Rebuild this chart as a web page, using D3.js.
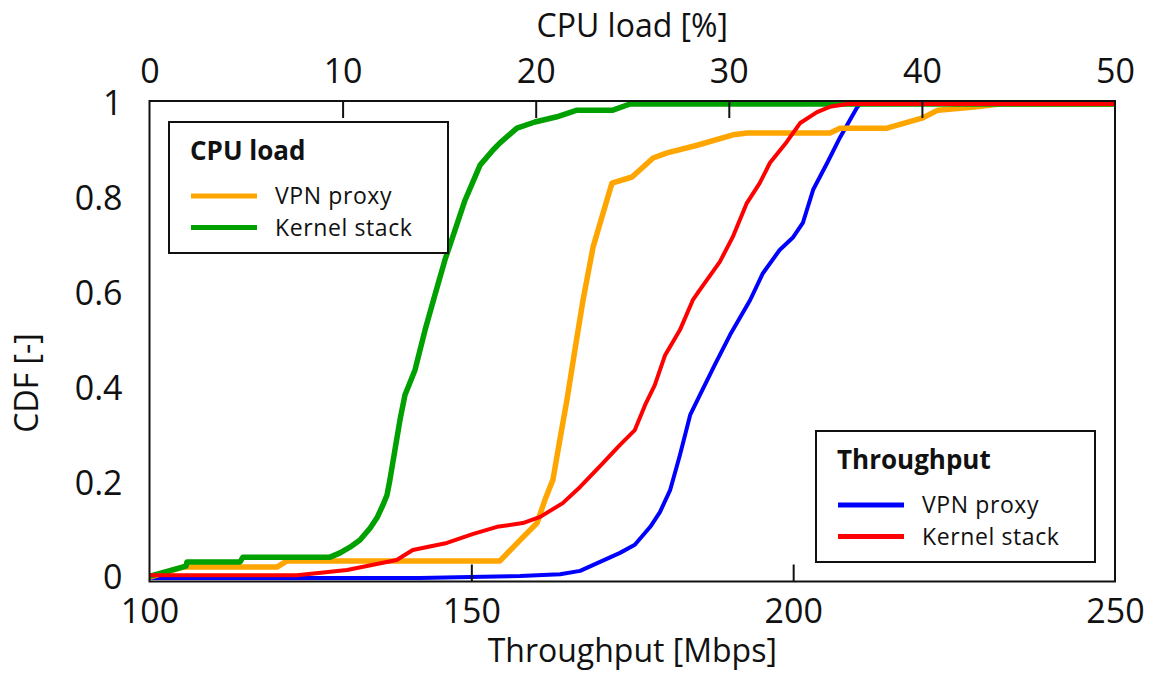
<!DOCTYPE html>
<html>
<head>
<meta charset="utf-8">
<script src="https://cdn.jsdelivr.net/npm/d3@7"></script>
<style>
  html, body { margin: 0; padding: 0; background: #fff; }
  svg { display: block; font-family: "Open Sans", "Noto Sans", sans-serif; }
</style>
</head>
<body>
<svg id="chart" width="1153" height="673"></svg>
<script>
// ---- Data: CDF curves ----
// CPU load [%] (top axis)
const cpuProxyLoad = [0.03, 1.73, 6.6, 7.12, 18.15, 19.19, 20.07, 20.48, 20.89, 21.25, 21.62, 22.03, 22.45, 22.97, 23.49, 23.95, 24.99, 26.08, 26.8, 28.36, 30.22, 30.95, 35.24, 35.76, 38.19, 40.0, 40.83, 42.85, 44.04, 50];
const cpuProxyCdf  = [0.002, 0.023, 0.023, 0.036, 0.036, 0.08, 0.116, 0.165, 0.207, 0.291, 0.376, 0.481, 0.586, 0.698, 0.77, 0.833, 0.846, 0.886, 0.897, 0.913, 0.935, 0.939, 0.939, 0.949, 0.949, 0.97, 0.987, 0.994, 1.0, 1.0];

const cpuKernelLoad = [0.03, 1.89, 1.94, 4.69, 4.84, 9.35, 9.87, 10.38, 10.9, 11.42, 11.78, 12.09, 12.3, 12.45, 12.71, 12.97, 13.23, 13.75, 14.27, 14.78, 15.3, 15.82, 16.34, 17.12, 17.79, 18.15, 19.03, 19.96, 21.1, 22.14, 24.0, 24.88, 50];
const cpuKernelCdf  = [0.004, 0.025, 0.034, 0.034, 0.044, 0.044, 0.053, 0.065, 0.08, 0.105, 0.127, 0.154, 0.175, 0.207, 0.27, 0.333, 0.386, 0.439, 0.523, 0.597, 0.671, 0.734, 0.797, 0.871, 0.903, 0.918, 0.949, 0.962, 0.973, 0.987, 0.987, 1.0, 1.0];

// Throughput [Mbps] (bottom axis)
const tputProxyMbps = [100.1, 142.0, 149.8, 157.6, 163.8, 166.9, 170.0, 173.1, 175.4, 177.8, 179.3, 180.9, 182.4, 184.0, 185.5, 187.8, 190.2, 193.3, 195.3, 197.9, 200.0, 201.5, 203.1, 205.3, 207.3, 209.9, 210.4, 250];
const tputProxyCdf  = [0.0, 0.0, 0.002, 0.004, 0.008, 0.015, 0.034, 0.053, 0.07, 0.108, 0.139, 0.186, 0.259, 0.344, 0.386, 0.449, 0.513, 0.586, 0.643, 0.692, 0.719, 0.749, 0.819, 0.876, 0.93, 0.992, 1.0, 1.0];

const tputKernelMbps = [100.1, 122.9, 130.7, 138.4, 140.9, 146.2, 150.3, 154.0, 158.0, 160.7, 164.2, 166.9, 170.0, 173.1, 175.4, 177.0, 178.5, 180.1, 182.4, 184.4, 185.5, 188.6, 190.6, 192.8, 194.8, 196.4, 199.0, 201.1, 203.7, 205.7, 208.4, 250];
const tputKernelCdf  = [0.006, 0.006, 0.017, 0.038, 0.059, 0.074, 0.093, 0.108, 0.116, 0.129, 0.158, 0.192, 0.236, 0.281, 0.312, 0.365, 0.407, 0.47, 0.523, 0.586, 0.608, 0.667, 0.719, 0.791, 0.833, 0.876, 0.92, 0.96, 0.983, 0.994, 1.0, 1.0];

// Axis ticks and labels
const tputTicks = [100, 150, 200, 250];
const cpuTicks = [0, 10, 20, 30, 40, 50];
const cdfTicks = [0, 0.2, 0.4, 0.6, 0.8, 1];
const legendLabels = ["VPN proxy", "Kernel stack"];

// ---- Layout ----
const svg = d3.select("#chart");
const frame = { left: 149.5, right: 1115, top: 101, bottom: 581.5 };

const xT = d3.scaleLinear().domain([100, 250]).range([frame.left, frame.right]);
const xC = d3.scaleLinear().domain([0, 50]).range([frame.left, frame.right]);
const y  = d3.scaleLinear().domain([0, 1]).range([578, 104]);

const colors = { orange: "#ffa500", green: "#00a000", blue: "#0000ff", red: "#ff0000" };

// ---- Curves ----
function curve(xs, ys, xScale, color, width) {
  const pts = xs.map((v, i) => [v, ys[i]]);
  const line = d3.line().x(d => xScale(d[0])).y(d => y(d[1]));
  svg.append("path")
    .datum(pts)
    .attr("d", line)
    .attr("fill", "none")
    .attr("stroke", color)
    .attr("stroke-width", width)
    .attr("stroke-linejoin", "round");
}

curve(tputProxyMbps, tputProxyCdf, xT, colors.blue, 4);
curve(cpuProxyLoad, cpuProxyCdf, xC, colors.orange, 5.5);
curve(cpuKernelLoad, cpuKernelCdf, xC, colors.green, 5.5);
curve(tputKernelMbps, tputKernelCdf, xT, colors.red, 4);

// ---- Frame ----
svg.append("rect")
  .attr("x", frame.left).attr("y", frame.top)
  .attr("width", frame.right - frame.left)
  .attr("height", frame.bottom - frame.top)
  .attr("fill", "none").attr("stroke", "#111").attr("stroke-width", 2);

// ---- Axes ----
const tickFont = 34;

const bottomAxis = svg.append("g")
  .attr("transform", `translate(0,${frame.bottom})`)
  .call(d3.axisBottom(xT).tickValues(tputTicks).tickSizeInner(-17).tickSizeOuter(0).tickPadding(17).tickFormat(d3.format("d")));

const topAxis = svg.append("g")
  .attr("transform", `translate(0,${frame.top})`)
  .call(d3.axisTop(xC).tickValues(cpuTicks).tickSizeInner(-17).tickSizeOuter(0).tickPadding(18).tickFormat(d3.format("d")));

const leftAxis = svg.append("g")
  .attr("transform", `translate(${frame.left},0)`)
  .call(d3.axisLeft(y).tickValues(cdfTicks).tickSize(0).tickPadding(27)
    .tickFormat(d => (d === 0 || d === 1) ? String(d) : d.toFixed(1)));

[bottomAxis, topAxis, leftAxis].forEach(g => {
  g.select(".domain").remove();
  g.selectAll("text").attr("font-size", tickFont).attr("fill", "#111")
    .attr("font-family", "\"Open Sans\", \"Noto Sans\", sans-serif");
  g.selectAll("line").attr("stroke", "#111").attr("stroke-width", 2);
});
// edge ticks coincide with the frame
bottomAxis.selectAll(".tick line").filter(d => d === 100 || d === 250).remove();
topAxis.selectAll(".tick line").filter(d => d === 0 || d === 50).remove();
topAxis.selectAll("text").attr("dy", "0em");

// ---- Axis titles ----
const midX = (frame.left + frame.right) / 2;
svg.append("text").attr("x", midX).attr("y", 37)
  .attr("text-anchor", "middle").attr("font-size", 32).attr("fill", "#111")
  .text("CPU load [%]");
svg.append("text").attr("x", midX).attr("y", 662)
  .attr("text-anchor", "middle").attr("font-size", 32).attr("fill", "#111")
  .text("Throughput [Mbps]");
svg.append("text")
  .attr("transform", "translate(38,383) rotate(-90)")
  .attr("text-anchor", "middle").attr("font-size", 32).attr("fill", "#111")
  .text("CDF [-]");

// ---- Legends ----
function legend(x0, y0, title, entries) {
  const g = svg.append("g").attr("transform", `translate(${x0},${y0})`);
  g.append("rect").attr("width", 279).attr("height", 131)
    .attr("fill", "#fff").attr("stroke", "#111").attr("stroke-width", 2);
  g.append("text").attr("x", 21).attr("y", 38)
    .attr("font-size", 26).attr("font-weight", "bold").attr("fill", "#111")
    .text(title);
  entries.forEach((e, i) => {
    const ly = 74 + i * 31.5;
    g.append("line").attr("x1", 22).attr("x2", 88).attr("y1", ly).attr("y2", ly)
      .attr("stroke", e.color).attr("stroke-width", 5);
    g.append("text").attr("x", 106).attr("y", ly + 8)
      .attr("font-size", 23).attr("letter-spacing", 0.6)
      .attr("fill", "#111").text(e.label);
  });
}

legend(169, 122, "CPU load", [
  { label: legendLabels[0], color: colors.orange },
  { label: legendLabels[1], color: colors.green }
]);
legend(816, 431, "Throughput", [
  { label: legendLabels[0], color: colors.blue },
  { label: legendLabels[1], color: colors.red }
]);
</script>
</body>
</html>
